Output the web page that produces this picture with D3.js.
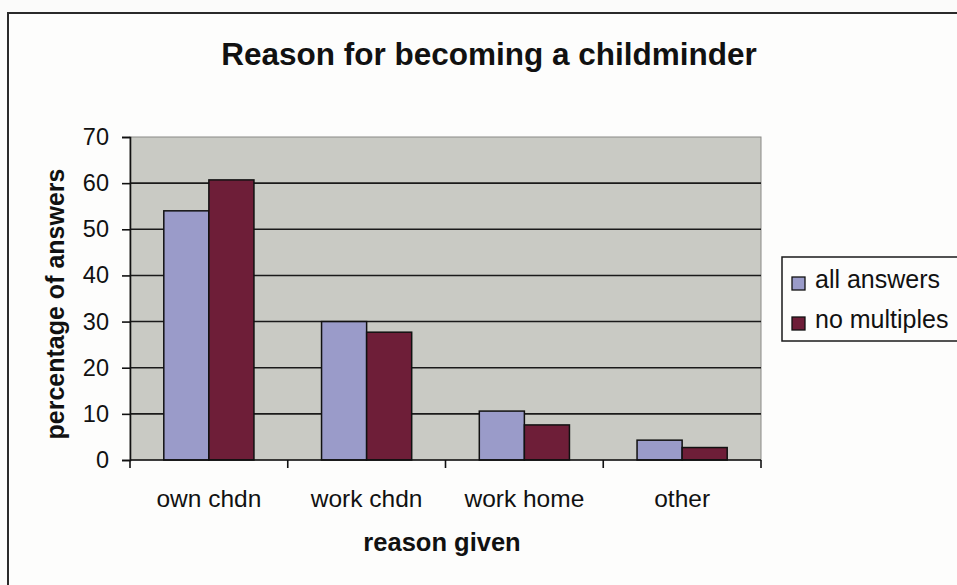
<!DOCTYPE html>
<html>
<head>
<meta charset="utf-8">
<script src="https://cdn.jsdelivr.net/npm/d3@7"></script>
<style>
  html, body { margin: 0; padding: 0; background: #fbfbfa; }
  svg { display: block; }
  text { font-family: Arial, "Liberation Sans", sans-serif; fill: #111; }
</style>
</head>
<body>
<svg id="chart" width="957" height="585"></svg>
<script>
// Chart data
const categories = ["own chdn", "work chdn", "work home", "other"];
const seriesNames = ["all answers", "no multiples"];
const allAnswers = [54, 30, 10.6, 4.3];
const noMultiples = [60.7, 27.7, 7.6, 2.7];
const yTicks = [0, 10, 20, 30, 40, 50, 60, 70];
const seriesColors = ["#9a9bc9", "#6e1e38"];

const series = [allAnswers, noMultiples];

const svg = d3.select("#chart");

// Outer chart frame (runs off the right and bottom edges)
svg.append("rect")
  .attr("x", 8).attr("y", 13)
  .attr("width", 1000).attr("height", 700)
  .attr("fill", "#fdfdfc")
  .attr("stroke", "#2a2a2a").attr("stroke-width", 2);

const plot = { left: 130, right: 761, top: 137, bottom: 460 };

const x = d3.scaleBand()
  .domain(categories)
  .range([plot.left, plot.right])
  .padding(0);

const xInner = d3.scaleBand()
  .domain(seriesNames)
  .range([0, x.bandwidth()])
  .paddingInner(0)
  .paddingOuter(0.75);

const y = d3.scaleLinear()
  .domain([0, 70])
  .range([plot.bottom, plot.top]);

// Plot area background
svg.append("rect")
  .attr("x", plot.left).attr("y", plot.top)
  .attr("width", plot.right - plot.left)
  .attr("height", plot.bottom - plot.top)
  .attr("fill", "#c9cac4")
  .attr("stroke", "#8a8a86").attr("stroke-width", 1);

// Horizontal gridlines
svg.append("g")
  .selectAll("line")
  .data(yTicks.filter(d => d > 0 && d < 70))
  .join("line")
  .attr("x1", plot.left).attr("x2", plot.right)
  .attr("y1", d => y(d)).attr("y2", d => y(d))
  .attr("stroke", "#1a1a1a").attr("stroke-width", 1.6);

// Bars
const groups = svg.append("g")
  .selectAll("g")
  .data(categories)
  .join("g")
  .attr("transform", d => `translate(${x(d)},0)`);

groups.selectAll("rect")
  .data((c, i) => seriesNames.map((s, j) => ({ s, j, v: series[j][i] })))
  .join("rect")
  .attr("x", d => xInner(d.s))
  .attr("y", d => y(d.v))
  .attr("width", xInner.bandwidth())
  .attr("height", d => y(0) - y(d.v))
  .attr("fill", d => seriesColors[d.j])
  .attr("stroke", "#111").attr("stroke-width", 1.5);

// Y axis
const yAxis = svg.append("g")
  .attr("transform", `translate(${plot.left},0)`)
  .call(d3.axisLeft(y).tickValues(yTicks).tickSize(8).tickPadding(13));
yAxis.select(".domain").attr("stroke", "#111").attr("stroke-width", 1.6);
yAxis.selectAll(".tick line").attr("stroke", "#111").attr("stroke-width", 1.6);
yAxis.selectAll(".tick text")
  .style("font-size", "23.5px")
  .style("font-family", "Arial, 'Liberation Sans', sans-serif")
  .attr("fill", "#111");

// X axis with boundary ticks between categories
const xAxisG = svg.append("g");
xAxisG.append("line")
  .attr("x1", plot.left).attr("x2", plot.right)
  .attr("y1", y(0)).attr("y2", y(0))
  .attr("stroke", "#111").attr("stroke-width", 1.6);
const boundaries = categories.map(c => x(c)).concat([x(categories[categories.length - 1]) + x.bandwidth()]);
xAxisG.selectAll("line.tick")
  .data(boundaries)
  .join("line")
  .attr("class", "tick")
  .attr("x1", d => d).attr("x2", d => d)
  .attr("y1", y(0)).attr("y2", y(0) + 8)
  .attr("stroke", "#111").attr("stroke-width", 1.6);
xAxisG.selectAll("text")
  .data(categories)
  .join("text")
  .attr("x", d => x(d) + x.bandwidth() / 2)
  .attr("y", 507)
  .attr("text-anchor", "middle")
  .style("font-size", "24.5px")
  .text(d => d);

// Title
svg.append("text")
  .attr("x", 489).attr("y", 65)
  .attr("text-anchor", "middle")
  .style("font-size", "31.5px")
  .style("font-weight", "bold")
  .text("Reason for becoming a childminder");

// Axis titles
svg.append("text")
  .attr("x", 442).attr("y", 551)
  .attr("text-anchor", "middle")
  .style("font-size", "25.5px")
  .style("font-weight", "bold")
  .text("reason given");

svg.append("text")
  .attr("transform", "translate(64,304) rotate(-90)")
  .attr("text-anchor", "middle")
  .style("font-size", "25px")
  .style("font-weight", "bold")
  .text("percentage of answers");

// Legend
const legend = svg.append("g");
legend.append("rect")
  .attr("x", 782).attr("y", 257)
  .attr("width", 240).attr("height", 84)
  .attr("fill", "#fdfdfc")
  .attr("stroke", "#1a1a1a").attr("stroke-width", 1.5);
const items = legend.selectAll("g")
  .data(seriesNames)
  .join("g")
  .attr("transform", (d, i) => `translate(792,${277 + i * 40})`);
items.append("rect")
  .attr("width", 13).attr("height", 13)
  .attr("fill", (d, i) => seriesColors[i])
  .attr("stroke", "#111").attr("stroke-width", 1.3);
items.append("text")
  .attr("x", 23).attr("y", 11)
  .style("font-size", "25px")
  .text(d => d);
</script>
</body>
</html>
